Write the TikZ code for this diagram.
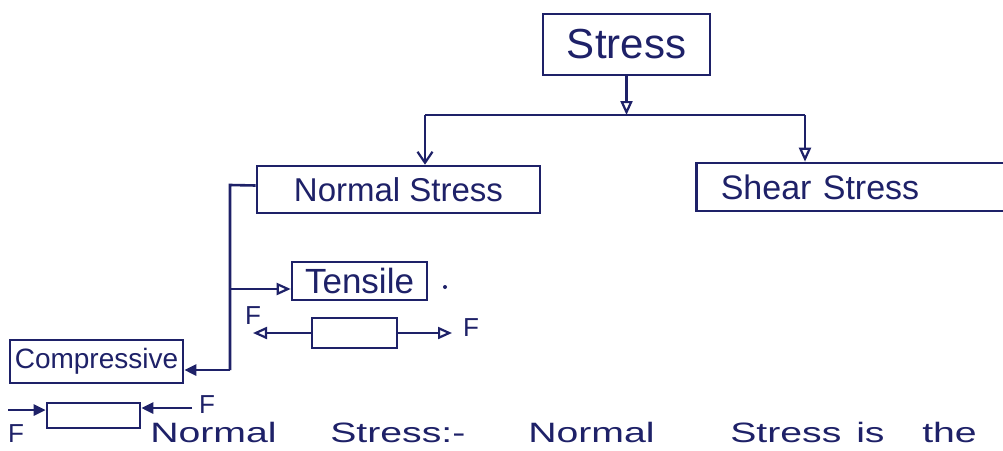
\documentclass[tikz,border=0pt]{standalone}
\usepackage{fontspec}
\setmainfont{Liberation Sans}
\usetikzlibrary{arrows.meta,calc}
\definecolor{ink}{HTML}{1E2168}
\begin{document}
\begin{tikzpicture}[x=1pt,y=-1pt,
  box/.style={draw=ink,line width=2.6pt,rectangle,inner sep=0pt,text=ink},
  bar/.style={draw=ink,line width=2.6pt,rectangle,inner sep=0pt},
  conn/.style={draw=ink,line width=2.6pt},
  otri/.style={-{Triangle[open,length=14pt,width=12pt,line width=2.2pt]}},
  ftri/.style={-{Triangle[length=12pt,width=11pt]}},
  barb/.style={-{Straight Barb[length=11pt,width=15pt,line width=2.2pt]}},
  lbl/.style={text=ink,inner sep=0pt,font=\fontsize{26}{28}\selectfont},
  word/.style={text=ink,anchor=base west,inner sep=0pt,font=\fontsize{28}{30}\selectfont,xscale=1.4,transform shape}
]
\useasboundingbox (0,0) rectangle (1003,450);
\fill[white] (0,0) rectangle (1003,450);

% boxes
\node[box,minimum width=167pt,minimum height=61pt,font=\fontsize{42}{44}\selectfont] (stress) at (626.5,44.5) {Stress};
\node[box,minimum width=283pt,minimum height=47pt,font=\fontsize{33}{35}\selectfont] (normal) at (398.5,189.5) {Normal Stress};
\node[box,anchor=west,minimum height=48pt,text width=260pt,inner xsep=24.5pt,font=\fontsize{34}{36}\selectfont] (shear) at (695,187) {Shear Stress};
\node[box,minimum width=135pt,minimum height=38pt,font=\fontsize{35}{37}\selectfont] (tensile) at (359.5,281) {Tensile};
\node[box,minimum width=173pt,minimum height=43pt,font=\fontsize{28}{30}\selectfont] (comp) at (96.5,361.5) {Compressive};
\fill[ink] (445,287) circle (2pt);

% specimen bars
\node[bar,minimum width=85pt,minimum height=30pt] (tbar) at (354.5,333) {};
\node[bar,minimum width=93pt,minimum height=25pt] (cbar) at (93.5,415.5) {};

% tree connectors
\coordinate (j) at (stress.south |- 0,115);
\coordinate (jL) at (425,115);
\coordinate (jR) at (805,115);
\draw[conn,otri] (stress.south) -- (j);
\draw[conn] (jL) -- (jR);
\draw[conn,barb] (jL) -- (jL |- normal.north);
\draw[conn,otri] (jR) -- (jR |- shear.north);

% normal stress branches
\coordinate (n1) at (230,185);
\coordinate (n2) at (230,289);
\coordinate (n3) at (230,370);
\draw[conn] ([yshift=4pt]normal.west) -- (n1) -- (n3);
\draw[conn,ftri] (n3) -- ([yshift=-8.5pt]comp.east);
\draw[conn,otri] (n2) -- ([yshift=-8pt]tensile.west);

% tensile forces
\coordinate (tL) at (253,333);
\coordinate (tR) at (452,333);
\draw[conn,otri] (tbar.west) -- (tL);
\draw[conn,otri] (tbar.east) -- (tR);
\node[lbl] (fTL) at (253,316) {F};
\node[lbl] (fTR) at (471,328) {F};

% compressive forces
\coordinate (cL) at (8,410);
\coordinate (cR) at (192,408);
\draw[conn,ftri] (cL) -- ([yshift=5.5pt]cbar.west);
\draw[conn,ftri] (cR) -- ([yshift=7.5pt]cbar.east);
\node[lbl] (fCL) at (16,434) {F};
\node[lbl] (fCR) at (207,405) {F};

% sentence at the bottom
\node[word] (w1) at (150,442) {Normal};
\node[word] (w2) at (330,442) {Stress:-};
\node[word] (w3) at (528,442) {Normal};
\node[word] (w4) at (730,442) {Stress};
\node[word] (w5) at (856,442) {is};
\node[word] (w6) at (922,442) {the};
\end{tikzpicture}
\end{document}
